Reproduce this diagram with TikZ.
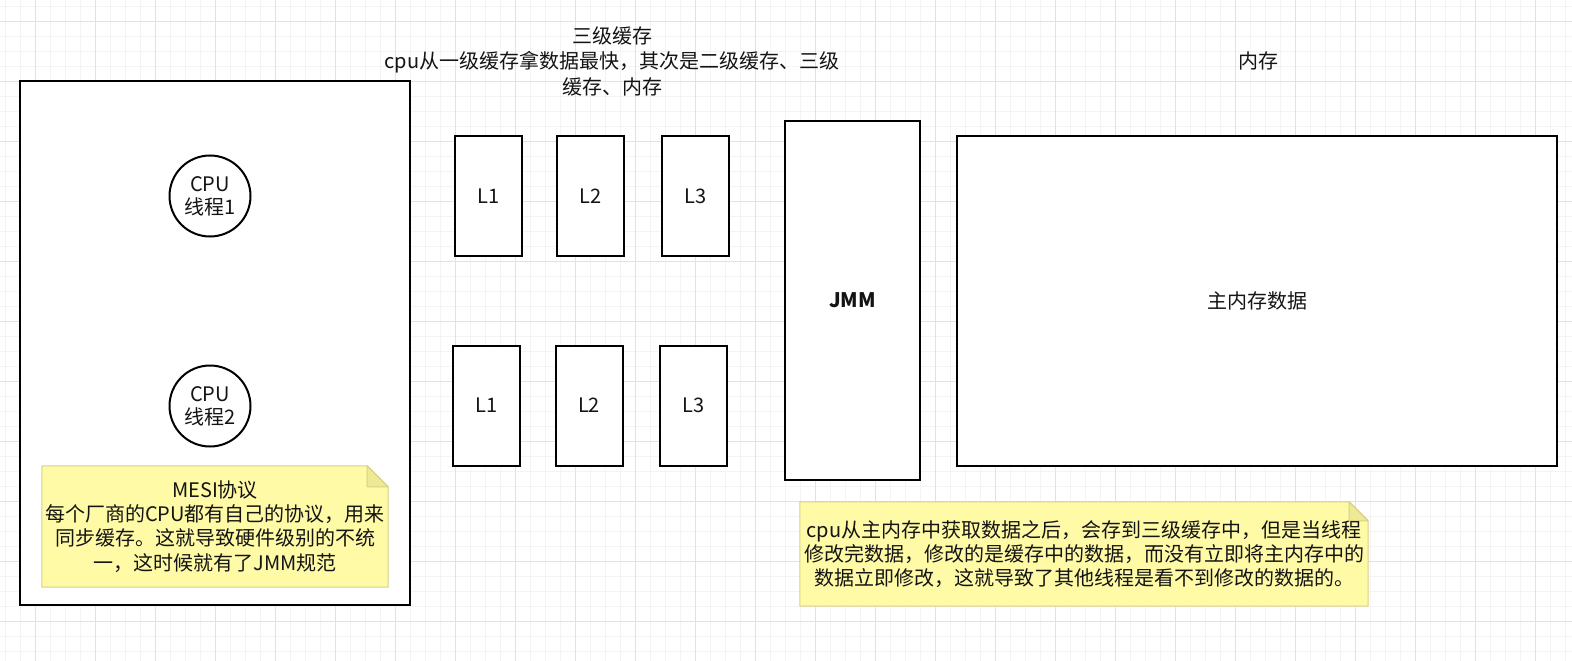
\documentclass[tikz,border=0pt]{standalone}
\usepackage{fontspec}
\setmainfont{Noto Sans CJK SC}
\usetikzlibrary{calc}
\definecolor{gridminor}{HTML}{F4F4F4}
\definecolor{gridmajor}{HTML}{E2E2E2}
\definecolor{notefill}{HTML}{FFFAA6}
\definecolor{notedraw}{HTML}{D6D28A}
\definecolor{notefold}{HTML}{EFE894}
\definecolor{txt}{HTML}{141414}
\pgfdeclarelayer{gridlayer}
\pgfdeclarelayer{background}
\pgfdeclarelayer{notelayer}
\pgfsetlayers{gridlayer,background,notelayer,main}
\tikzset{
  box/.style={draw, line width=2pt, fill=white, inner sep=0pt, text=txt,
    font=\fontsize{20}{24}\selectfont},
  circ/.style={circle, draw, line width=2pt, minimum size=81pt, fill=white,
    inner sep=0pt, align=center, text=txt, font=\fontsize{20}{23}\selectfont},
  lbl/.style={align=center, inner sep=0pt, text=txt, font=\fontsize{20}{25.5}\selectfont},
  notebox/.style={inner sep=0pt, align=center, text=txt, font=\fontsize{20}{24.3}\selectfont},
  noteshape/.style={draw=notedraw, fill=notefill, line width=1pt},
  notefoldst/.style={draw=notedraw, fill=notefold, line width=1pt, line join=round},
}
\begin{document}
\begin{tikzpicture}[x=1pt,y=-1pt]
\useasboundingbox (0,0) rectangle (1572,661);
\begin{pgfonlayer}{gridlayer}
\fill[white] (0,0) rectangle (1572,661);
\foreach \x in {5,20,...,1570} \draw[gridminor, line width=1pt] (\x,0) -- (\x,661);
\foreach \y in {6.7,21.7,...,660} \draw[gridminor, line width=1pt] (0,\y) -- (1572,\y);
\foreach \x in {35,95,...,1570} \draw[gridmajor, line width=1pt] (\x,0) -- (\x,661);
\foreach \y in {21.7,81.7,...,660} \draw[gridmajor, line width=1pt] (0,\y) -- (1572,\y);
\end{pgfonlayer}

% top labels
\node[lbl] (title) at (612,61) {三级缓存\\cpu从一级缓存拿数据最快，其次是二级缓存、三级\\缓存、内存};
\node[lbl] (memlbl) at (1258,61) {内存};

% CPU container
\begin{pgfonlayer}{background}
\node[box, minimum width=390pt, minimum height=524pt] (cpubox) at (215,343) {};
\end{pgfonlayer}
\node[circ] (cpu1) at (210,196) {CPU\\线程1};
\node[circ] (cpu2) at (210,406) {CPU\\线程2};

% caches row 1
\node[box, minimum width=67pt, minimum height=120pt] (a1) at (488.5,196) {L1};
\node[box, minimum width=67pt, minimum height=120pt] (a2) at (590.5,196) {L2};
\node[box, minimum width=67pt, minimum height=120pt] (a3) at (695.5,196) {L3};
% caches row 2
\node[box, minimum width=67pt, minimum height=120pt] (b1) at (486.5,405.5) {L1};
\node[box, minimum width=67pt, minimum height=120pt] (b2) at (589,405.5) {L2};
\node[box, minimum width=67pt, minimum height=120pt] (b3) at (693.5,405.5) {L3};

% JMM and main memory
\node[box, minimum width=135pt, minimum height=359pt, font=\fontsize{20}{24}\selectfont\bfseries] (jmm) at (852.5,300.5) {JMM};
\node[box, minimum width=600pt, minimum height=330pt] (mem) at (1257,301) {主内存数据};

% note 1
\node[notebox, minimum width=346pt, minimum height=121pt] (note1) at (215,526.5)
  {MESI协议\\每个厂商的CPU都有自己的协议，用来\\同步缓存。这就导致硬件级别的不统\\一，这时候就有了JMM规范};
\begin{pgfonlayer}{notelayer}
\draw[noteshape] (note1.north west) -- ($(note1.north east)+(-21,0)$) -- ($(note1.north east)+(0,21)$) -- (note1.south east) -- (note1.south west) -- cycle;
\draw[notefoldst] ($(note1.north east)+(-21,0)$) -- ($(note1.north east)+(-21,21)$) -- ($(note1.north east)+(0,21)$) -- cycle;
\end{pgfonlayer}

% note 2
\node[notebox, minimum width=568pt, minimum height=104pt] (note2) at (1084,554)
  {cpu从主内存中获取数据之后，会存到三级缓存中，但是当线程\\修改完数据，修改的是缓存中的数据，而没有立即将主内存中的\\数据立即修改，这就导致了其他线程是看不到修改的数据的。};
\begin{pgfonlayer}{notelayer}
\draw[noteshape] (note2.north west) -- ($(note2.north east)+(-19,0)$) -- ($(note2.north east)+(0,19)$) -- (note2.south east) -- (note2.south west) -- cycle;
\draw[notefoldst] ($(note2.north east)+(-19,0)$) -- ($(note2.north east)+(-19,19)$) -- ($(note2.north east)+(0,19)$) -- cycle;
\end{pgfonlayer}
\end{tikzpicture}
\end{document}
